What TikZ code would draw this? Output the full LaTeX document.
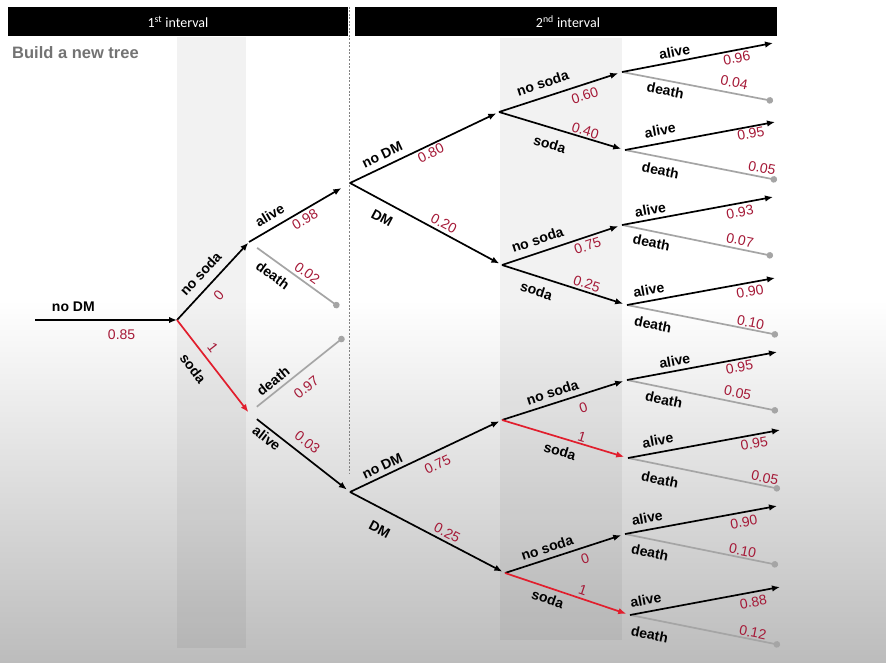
\documentclass[tikz,border=0pt]{standalone}
\usepackage{fontspec}
\setmainfont{Liberation Sans}
\newfontfamily\hdrfont{Carlito}
\usetikzlibrary{arrows.meta}
\definecolor{numred}{RGB}{165,25,55}
\definecolor{brred}{RGB}{225,30,45}
\definecolor{dgray}{RGB}{165,165,165}
\definecolor{bggray}{RGB}{188,188,188}
\definecolor{ttlgray}{RGB}{115,115,115}
\definecolor{dashgray}{RGB}{130,130,130}
\tikzset{
  br/.style={line width=1.7pt, -{Latex[length=8pt,width=6.5pt]}, shorten >=3pt},
  redbr/.style={br, draw=brred},
  dth/.style={line width=1.7pt, draw=dgray, -{Circle[length=6.5pt]}},
  lab/.style={font=\bfseries\fontsize{14}{16}\selectfont, sloped, inner sep=3pt},
  num/.style={font=\fontsize{14}{16}\selectfont, text=numred, sloped, inner sep=2pt},
  hdr/.style={fill=black},
  hdrtxt/.style={text=white, font=\hdrfont\fontsize{14}{16}\selectfont, inner sep=0pt},
  strip/.style={fill=black, fill opacity=0.05},
}
\begin{document}
\begin{tikzpicture}[x=1pt,y=-1pt]
\useasboundingbox (0,0) rectangle (886,663);
% background
\fill[white] (0,0) rectangle (886,300);
\shade[top color=white, bottom color=bggray] (0,300) rectangle (886,663);
\fill[strip] (177,37) rectangle (246,648);
\fill[strip] (500,38) rectangle (622,640);
% headers
\fill[hdr] (8,7) rectangle (348,36);
\fill[hdr] (355,7) rectangle (777,36);
\node[hdrtxt] (h1) at (178,22) {1\textsuperscript{st} interval};
\node[hdrtxt] (h2) at (568,22) {2\textsuperscript{nd} interval};
\draw[dashgray, line width=0.6pt, dash pattern=on 2pt off 1.5pt] (349,7) -- (349,473);
\node[anchor=west, inner sep=0pt, text=ttlgray, font=\bfseries\fontsize{16.5}{18}\selectfont] (title) at (12,53) {Build a new tree};
% coordinates
\coordinate (R) at (35,320);
\coordinate (A) at (177,320);
\coordinate (B1) at (249,242);
\coordinate (B2) at (249,413);
\coordinate (X1) at (339,307);
\coordinate (X2) at (344,337);
\coordinate (C1) at (350,183);
\coordinate (C2) at (350,492);
\coordinate (D1) at (499,112);
\coordinate (D2) at (502,265);
\coordinate (D3) at (502,420);
\coordinate (D4) at (505,573);
\coordinate (E1) at (622,72);
\coordinate (E2) at (625,150);
\coordinate (E3) at (622,225);
\coordinate (E4) at (627,305);
\coordinate (E5) at (627,380);
\coordinate (E6) at (628,458);
\coordinate (E7) at (625,534);
\coordinate (E8) at (630,615);
\coordinate (a1) at (773,43);  \coordinate (d1) at (773,101);
\coordinate (a2) at (775,122); \coordinate (d2) at (777,180);
\coordinate (a3) at (773,197); \coordinate (d3) at (773,256);
\coordinate (a4) at (775,278); \coordinate (d4) at (778,335);
\coordinate (a5) at (777,352); \coordinate (d5) at (778,411);
\coordinate (a6) at (780,430); \coordinate (d6) at (780,489);
\coordinate (a7) at (777,506); \coordinate (d7) at (778,565);
\coordinate (a8) at (780,587); \coordinate (d8) at (780,645);
% first interval
\draw[br, shorten >=0pt] (R) -- node[lab, above=5pt, pos=.27] {no DM} node[num, below=7pt, pos=.61] {0.85} (A);
\draw[br, shorten >=1pt] (A) -- node[lab, above=5pt, pos=.47] {no soda} node[num, below=6pt, pos=.44] {0} (B1);
\draw[redbr, shorten >=1pt] (A) -- node[lab, below=8pt, pos=.41] {soda} node[num, above=4pt, pos=.37] {1} (B2);
\draw[br, shorten >=10pt] (B1) -- node[lab, above=4pt, pos=.27] {alive} node[num, below=1pt, pos=.51] {0.98} (C1);
\draw[dth, shorten <=10pt] (B1) -- node[lab, below=4pt, pos=.35] {death} node[num, above=1pt, pos=.59] {0.02} (X1);
\draw[dth, shorten <=10pt] (B2) -- node[lab, above=1pt, pos=.32] {death} node[num, below=8pt, pos=.50] {0.97} (X2);
\draw[br, shorten <=10pt, shorten >=4pt] (B2) -- node[lab, below=0pt, pos=.23] {alive} node[num, above=5pt, pos=.50] {0.03} (C2);
% second interval, level 1
\draw[br] (C1) -- node[lab, above=3pt, pos=.25] {no DM} node[num, below=0pt, pos=.52] {0.80} (D1);
\draw[br] (C1) -- node[lab, below=7pt, pos=.26] {DM} node[num, above=1pt, pos=.59] {0.20} (D2);
\draw[br] (C2) -- node[lab, above=1pt, pos=.24] {no DM} node[num, below=5pt, pos=.54] {0.75} (D3);
\draw[br] (C2) -- node[lab, below=11pt, pos=.25] {DM} node[num, above=1pt, pos=.60] {0.25} (D4);
% level 2
\draw[br, shorten >=4pt] (D1) -- node[lab, above=5pt, pos=.39] {no soda} node[num, below=3pt, pos=.67] {0.60} (E1);
\draw[br, shorten >=4pt] (D1) -- node[lab, below=7pt, pos=.44] {soda} node[num, above=-1pt, pos=.67] {0.40} (E2);
\draw[br, shorten >=4pt] (D2) -- node[lab, above=4pt, pos=.33] {no soda} node[num, below=1pt, pos=.69] {0.75} (E3);
\draw[br, shorten >=4pt] (D2) -- node[lab, below=5pt, pos=.31] {soda} node[num, above=0pt, pos=.66] {0.25} (E4);
\draw[br, shorten >=4pt] (D3) -- node[lab, above=2pt, pos=.43] {no soda} node[num, below=5pt, pos=.62] {0} (E5);
\draw[redbr, shorten >=4pt] (D3) -- node[lab, below=4pt, pos=.49] {soda} node[num, above=-1pt, pos=.62] {1} (E6);
\draw[br, shorten >=4pt] (D4) -- node[lab, above=2pt, pos=.38] {no soda} node[num, below=3pt, pos=.64] {0} (E7);
\draw[redbr, shorten >=4pt] (D4) -- node[lab, below=2pt, pos=.37] {soda} node[num, above=1pt, pos=.60] {1} (E8);
% leaves
\draw[dth] (E1) -- node[lab, below=1pt, pos=.30] {death} node[num, above=3pt, pos=.73] {0.04} (d1);
\draw[br, shorten >=0pt] (E1) -- node[lab, above=1pt, pos=.36] {alive} node[num, below=0pt, pos=.75] {0.96} (a1);
\draw[dth] (E2) -- node[lab, below=4pt, pos=.25] {death} node[num, above=1pt, pos=.89] {0.05} (d2);
\draw[br, shorten >=0pt] (E2) -- node[lab, above=4pt, pos=.25] {alive} node[num, below=-1pt, pos=.83] {0.95} (a2);
\draw[dth] (E3) -- node[lab, below=2pt, pos=.21] {death} node[num, above=1pt, pos=.77] {0.07} (d3);
\draw[br, shorten >=0pt] (E3) -- node[lab, above=1pt, pos=.20] {alive} node[num, below=1pt, pos=.77] {0.93} (a3);
\draw[dth] (E4) -- node[lab, below=5pt, pos=.19] {death} node[num, above=-1pt, pos=.81] {0.10} (d4);
\draw[br, shorten >=0pt] (E4) -- node[lab, above=2pt, pos=.16] {alive} node[num, below=1pt, pos=.82] {0.90} (a4);
\draw[dth] (E5) -- node[lab, below=3pt, pos=.26] {death} node[num, above=2pt, pos=.72] {0.05} (d5);
\draw[br, shorten >=0pt] (E5) -- node[lab, above=1pt, pos=.33] {alive} node[num, below=0pt, pos=.74] {0.95} (a5);
\draw[dth] (E6) -- node[lab, below=6pt, pos=.23] {death} node[num, above=0pt, pos=.89] {0.05} (d6);
\draw[br, shorten >=0pt] (E6) -- node[lab, above=3pt, pos=.21] {alive} node[num, below=1pt, pos=.82] {0.95} (a6);
\draw[dth] (E7) -- node[lab, below=4pt, pos=.18] {death} node[num, above=-1pt, pos=.76] {0.10} (d7);
\draw[br, shorten >=0pt] (E7) -- node[lab, above=3pt, pos=.16] {alive} node[num, below=2pt, pos=.77] {0.90} (a7);
\draw[dth] (E8) -- node[lab, below=6pt, pos=.15] {death} node[num, above=-1pt, pos=.81] {0.12} (d8);
\draw[br, shorten >=0pt] (E8) -- node[lab, above=3pt, pos=.12] {alive} node[num, below=2pt, pos=.81] {0.88} (a8);
\end{tikzpicture}
\end{document}
